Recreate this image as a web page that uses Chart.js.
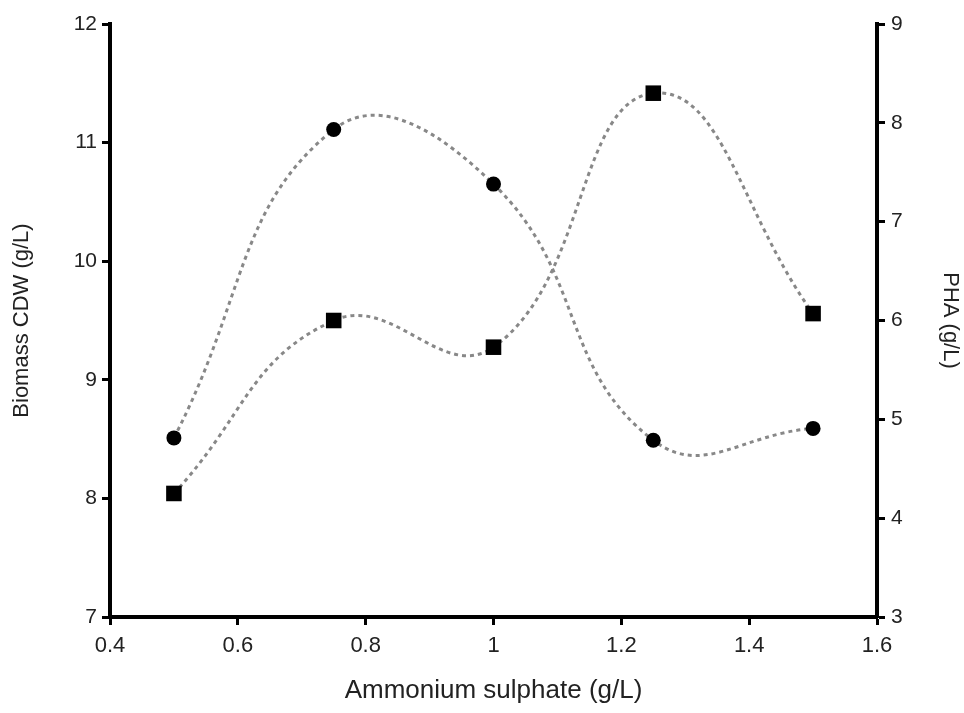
<!DOCTYPE html>
<html>
<head>
<meta charset="utf-8">
<script src="https://cdn.jsdelivr.net/npm/chart.js@4/dist/chart.umd.min.js"></script>
<style>
  html, body { margin: 0; padding: 0; background: #fff; }
  #wrap { width: 964px; height: 713px; }
</style>
</head>
<body>
<div id="wrap"><canvas id="c" width="964" height="713"></canvas></div>
<script>
// Data
const ammoniumSulphate = [0.5, 0.75, 1.0, 1.25, 1.5];
const biomassCDW = [8.51, 11.11, 10.65, 8.49, 8.59];   // circles, left axis
const phaValues  = [4.25, 6.00, 5.73, 8.30, 6.07];     // squares, right axis
const xTickLabels = ['0.4', '0.6', '0.8', '1', '1.2', '1.4', '1.6'];
const leftTickLabels = ['7', '8', '9', '10', '11', '12'];
const rightTickLabels = ['3', '4', '5', '6', '7', '8', '9'];

const toPoints = (xs, ys) => xs.map((x, i) => ({ x: x, y: ys[i] }));

const FAM = 'Liberation Sans, Arial, sans-serif';

const gridOpts = {
  display: true,
  drawOnChartArea: false,
  drawTicks: true,
  tickLength: 8,
  tickWidth: 3,
  tickColor: '#000'
};
const borderOpts = { display: true, color: '#000', width: 4 };

new Chart(document.getElementById('c'), {
  type: 'scatter',
  data: {
    datasets: [
      {
        label: 'Biomass CDW (g/L)',
        data: toPoints(ammoniumSulphate, biomassCDW),
        yAxisID: 'yLeft',
        showLine: true,
        tension: 0.45,
        borderColor: '#888888',
        borderWidth: 3,
        borderDash: [4, 4],
        pointStyle: 'circle',
        pointRadius: 7.5,
        pointBackgroundColor: '#000',
        pointBorderColor: '#000',
        pointBorderWidth: 0
      },
      {
        label: 'PHA (g/L)',
        data: toPoints(ammoniumSulphate, phaValues),
        yAxisID: 'yRight',
        showLine: true,
        tension: 0.45,
        borderColor: '#888888',
        borderWidth: 3,
        borderDash: [4, 4],
        pointStyle: 'rect',
        pointRadius: 11,
        pointBackgroundColor: '#000',
        pointBorderColor: '#000',
        pointBorderWidth: 0
      }
    ]
  },
  options: {
    responsive: false,
    animation: false,
    layout: { padding: { top: 24, left: 0, right: 0, bottom: 0 } },
    plugins: { legend: { display: false }, tooltip: { enabled: false } },
    scales: {
      x: {
        type: 'linear',
        min: 0.4, max: 1.6,
        grid: gridOpts,
        border: borderOpts,
        afterBuildTicks: (s) => { s.ticks = xTickLabels.map(v => ({ value: parseFloat(v) })); },
        ticks: {
          color: '#222', font: { family: FAM, size: 22 }, padding: 8, maxRotation: 0,
          callback: (v, i) => xTickLabels[i]
        },
        title: {
          display: true, text: 'Ammonium sulphate (g/L)', color: '#222',
          font: { family: FAM, size: 26 },
          padding: { top: 10, bottom: 7 }
        },
        afterFit: (s) => { s.height = 96; }
      },
      yLeft: {
        type: 'linear', position: 'left',
        min: 7, max: 12,
        grid: gridOpts,
        border: borderOpts,
        afterBuildTicks: (s) => { s.ticks = leftTickLabels.map(v => ({ value: parseFloat(v) })); },
        ticks: { color: '#222', font: { family: FAM, size: 21 }, padding: 5, callback: (v, i) => leftTickLabels[i] },
        title: {
          display: true, text: 'Biomass CDW (g/L)', color: '#222',
          font: { family: FAM, size: 22 },
          padding: { top: 9, bottom: 0 }
        },
        afterFit: (s) => { s.width = 110; }
      },
      yRight: {
        type: 'linear', position: 'right',
        min: 3, max: 9,
        grid: gridOpts,
        border: borderOpts,
        afterBuildTicks: (s) => { s.ticks = rightTickLabels.map(v => ({ value: parseFloat(v) })); },
        ticks: { color: '#222', font: { family: FAM, size: 21 }, padding: 6, callback: (v, i) => rightTickLabels[i] },
        title: {
          display: true, text: 'PHA (g/L)', color: '#222',
          font: { family: FAM, size: 22 },
          padding: { top: 1, bottom: 0 }
        },
        afterFit: (s) => { s.width = 87; }
      }
    }
  }
});
</script>
</body>
</html>
